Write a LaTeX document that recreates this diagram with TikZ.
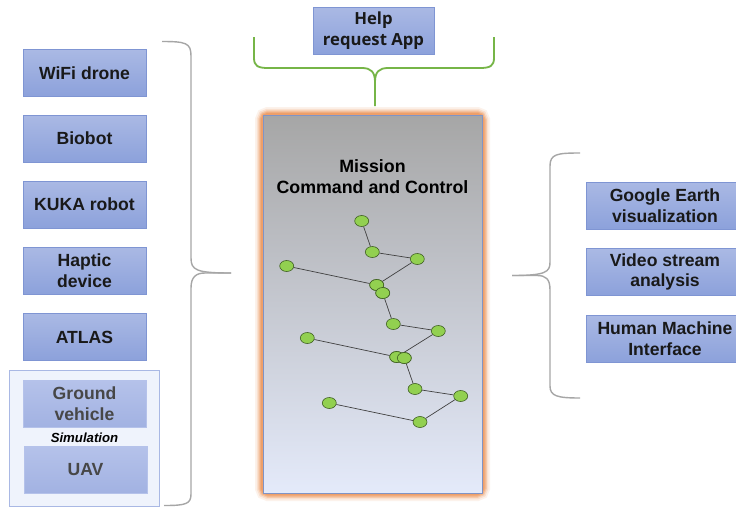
\documentclass[tikz,border=0pt]{standalone}
\usepackage{fontspec}
\setmainfont{Liberation Sans}
\newfontfamily\appfont{Open Sans}
\usetikzlibrary{shapes.geometric}

\definecolor{boxtop}{HTML}{AAB9E4}
\definecolor{boxbot}{HTML}{8CA1DB}
\definecolor{boxedge}{HTML}{7F95D3}
\definecolor{fadetop}{HTML}{B5C2EA}
\definecolor{fadebot}{HTML}{A2B2E2}
\definecolor{simfill}{HTML}{EFF3FC}
\definecolor{simedge}{HTML}{A9B8E4}
\definecolor{mcctop}{HTML}{A6A6A6}
\definecolor{mccbot}{HTML}{E4EAFA}
\definecolor{mccedge}{HTML}{8094C6}
\definecolor{glow}{HTML}{EE9A60}
\definecolor{bracegray}{HTML}{A6A6A6}
\definecolor{bracegreen}{HTML}{76B547}
\definecolor{dotfill}{HTML}{92D050}
\definecolor{dotedge}{HTML}{3F5F22}

\tikzset{
  box/.style={draw=boxedge, line width=0.8, top color=boxtop, bottom color=boxbot,
    minimum width=123, minimum height=47, inner sep=0, align=center,
    font=\bfseries\fontsize{17.6}{20.5}\selectfont, text=black!90},
  fadebox/.style={box, top color=fadetop, bottom color=fadebot, draw=fadetop,
    text=black!72},
  dot/.style={ellipse, draw=dotedge, line width=0.6, fill=dotfill,
    minimum width=14, minimum height=11, inner sep=0},
  link/.style={draw=black!75, line width=0.7},
  brace/.style={draw=bracegray, line width=1.4},
}

\begin{document}
\begin{tikzpicture}[x=1pt,y=-1pt]
\useasboundingbox (0,0) rectangle (736,507);
\fill[white] (0,0) rectangle (736,507);

% simulation group
\node[draw=simedge, fill=simfill, line width=0.8, minimum width=150, minimum height=136,
      inner sep=0] (sim) at (84,438) {};

% left column
\node[box] (wifi)   at (84.5,73)  {WiFi drone};
\node[box] (biobot) at (84.5,138.5) {Biobot};
\node[box] (kuka)   at (84.5,204.5) {KUKA robot};
\node[box] (haptic) at (84.5,270.5) {Haptic\\device};
\node[box] (atlas)  at (84.5,337) {ATLAS};
\node[fadebox] (ground) at (84.5,403.5) {Ground\\vehicle};
\node[font=\bfseries\itshape\fontsize{13.2}{15}\selectfont] (simlabel) at (84.5,437.5) {Simulation};
\node[fadebox] (uav) at (85.5,469.5) {UAV};

% top application
\node[box, minimum width=121, font=\appfont\bfseries\fontsize{16.7}{20.5}\selectfont] (help) at (373.5,30.5) {Help\\request App};

% right column
\node[box, minimum width=158] (earth) at (665,205.5) {Google Earth\\visualization};
\node[box, minimum width=158] (video) at (665,272)   {Video stream\\analysis};
\node[box, minimum width=158] (hmi)   at (665,338.5) {Human Machine\\Interface};

% mission command and control panel with glow
\foreach \w/\o in {16/0.12, 12.5/0.2, 9.5/0.32, 7/0.5, 4.5/0.75}
  \draw[glow, line width=\w, opacity=\o, rounded corners=5] (263,115) rectangle (482,493);
\node[draw=mccedge, line width=0.8, top color=mcctop, bottom color=mccbot,
      minimum width=219, minimum height=378, inner sep=0] (mcc) at (372.5,304) {};
\node[font=\bfseries\fontsize{17.8}{21}\selectfont, align=center] (mcctitle) at (372.5,176.5)
  {Mission\\Command and Control};

% mission network
\node[dot] (n1)  at (361.7,221) {};
\node[dot] (n2)  at (372.3,252) {};
\node[dot] (n3)  at (417.3,259) {};
\node[dot] (n4)  at (286.7,266) {};
\node[dot] (n5)  at (376.7,285) {};
\node[dot] (n6)  at (382.7,293) {};
\node[dot] (n7)  at (393.3,324) {};
\node[dot] (n8)  at (438.3,331) {};
\node[dot] (n9)  at (307.3,338) {};
\node[dot] (n10) at (396.7,357) {};
\node[dot] (n11) at (404.3,358) {};
\node[dot] (n12) at (415,389) {};
\node[dot] (n13) at (460.7,396) {};
\node[dot] (n14) at (329.3,403) {};
\node[dot] (n15) at (420,422) {};
\draw[link] (n1) -- (n2);
\draw[link] (n2) -- (n3);
\draw[link] (n3) -- (n5);
\draw[link] (n4) -- (n5);
\draw[link] (n6) -- (n7);
\draw[link] (n7) -- (n8);
\draw[link] (n8) -- (n10);
\draw[link] (n9) -- (n10);
\draw[link] (n11) -- (n12);
\draw[link] (n12) -- (n13);
\draw[link] (n13) -- (n15);
\draw[link] (n14) -- (n15);
% overlapping dots drawn again on top
\node[dot] at (n5) {};
\node[dot] at (n6) {};
\node[dot] at (n10) {};
\node[dot] at (n11) {};

% left brace
\coordinate (ltip) at (231,273);
\draw[brace] (162,41.5) .. controls (186,41.5) and (191,43) .. (191,56)
  -- (191,258) .. controls (191,270) and (196,273) .. (ltip);
\draw[brace] (ltip) -- (205,273) .. controls (196,273) and (191,277) .. (191,288)
  -- (191,494) .. controls (191,504) and (186,505.5) .. (164,505.5);

% right brace
\coordinate (rtip) at (512,275.5);
\draw[brace] (580,153) .. controls (557,153) and (550,154) .. (550,166)
  -- (550,262) .. controls (550,272) and (546,275.5) .. (rtip);
\draw[brace] (rtip) -- (537,275.5) .. controls (546,275.5) and (550,279) .. (550,290)
  -- (550,386) .. controls (550,396) and (557,398) .. (580,398);

% green brace under the help app
\coordinate (gtip) at (375,106);
\draw[bracegreen, line width=1.8] (254,37) -- (254,58) .. controls (254,66) and (258,68) .. (268,68)
  -- (362,68) .. controls (371,68) and (375,72) .. (375,82) -- (gtip);
\draw[bracegreen, line width=1.8] (494,37) -- (494,58) .. controls (494,66) and (490,68) .. (480,68)
  -- (388,68) .. controls (379,68) and (375,72) .. (375,82);
\end{tikzpicture}
\end{document}
